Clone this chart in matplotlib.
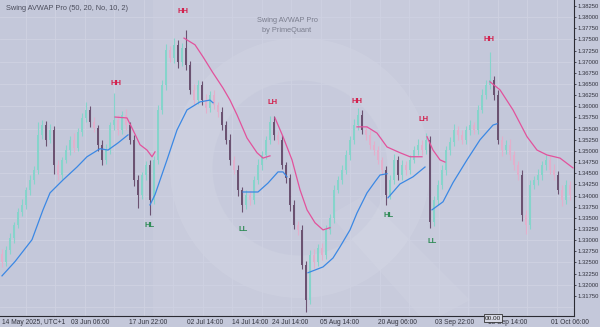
import numpy as np
import matplotlib.pyplot as plt
from matplotlib.patches import Rectangle, Ellipse, Polygon

plt.rcParams['font.family'] = ['Liberation Sans', 'DejaVu Sans']

## DATA

# one candle per slot, close prices
closes = [
    1.3252, 1.3278, 1.3305, 1.3334, 1.3364, 1.3379, 1.3413, 1.3435, 1.3458, 1.3536,
    1.3558, 1.3525, 1.3547, 1.3469, 1.3446, 1.3480, 1.3502, 1.3525, 1.3507, 1.3543,
    1.3574, 1.3592, 1.3565, 1.3552, 1.3514, 1.3480, 1.3502, 1.3558, 1.3570, 1.3547,
    1.3581, 1.3558, 1.3525, 1.3435, 1.3402, 1.3446, 1.3469, 1.3390, 1.3480, 1.3592,
    1.3648, 1.3726, 1.3708, 1.3738, 1.3700, 1.3731, 1.3693, 1.3637, 1.3614, 1.3648,
    1.3614, 1.3596, 1.3626, 1.3603, 1.3588, 1.3558, 1.3525, 1.3480, 1.3458, 1.3413,
    1.3379, 1.3402, 1.3390, 1.3435, 1.3469, 1.3491, 1.3525, 1.3565, 1.3536, 1.3525,
    1.3469, 1.3440, 1.3379, 1.3334, 1.3323, 1.3245, 1.3166, 1.3267, 1.3252, 1.3283,
    1.3267, 1.3323, 1.3350, 1.3413, 1.3435, 1.3458, 1.3491, 1.3525, 1.3558, 1.3581,
    1.3547, 1.3536, 1.3514, 1.3502, 1.3480, 1.3458, 1.3402, 1.3435, 1.3480, 1.3446,
    1.3469, 1.3458, 1.3480, 1.3502, 1.3514, 1.3502, 1.3525, 1.3341, 1.3390, 1.3424,
    1.3458, 1.3502, 1.3520, 1.3547, 1.3536, 1.3525, 1.3547, 1.3558, 1.3547, 1.3592,
    1.3626, 1.3648, 1.3659, 1.3626, 1.3525, 1.3502, 1.3514, 1.3491, 1.3469, 1.3446,
    1.3357, 1.3334, 1.3424, 1.3435, 1.3446, 1.3469, 1.3480, 1.3458, 1.3446, 1.3413,
    1.3390, 1.3424, 1.3402,
]
first_open = 1.3270

# wick lengths in pips above / below the body
upper_wick = [
    10, 8, 12, 6, 9, 14, 7, 10, 8, 30,
    12, 9, 14, 8, 10, 7, 12, 9, 15, 8,
    10, 18, 9, 12, 7, 10, 14, 8, 60, 11,
    9, 13, 8, 10, 12, 7, 9, 11, 8, 10,
    12, 14, 9, 15, 11, 10, 40, 8, 12, 10,
    9, 14, 8, 11, 7, 10, 9, 12, 8, 10,
    7, 11, 9, 8, 12, 10, 9, 14, 14, 8,
    10, 7, 9, 12, 8, 10, 9, 11, 14, 8,
    10, 12, 9, 11, 8, 10, 12, 9, 14, 15,
    10, 8, 11, 9, 10, 7, 9, 12, 14, 8,
    10, 9, 11, 8, 12, 10, 15, 9, 8, 11,
    10, 9, 12, 14, 8, 10, 9, 11, 8, 12,
    14, 10, 63, 9, 11, 8, 10, 12, 9, 8,
    11, 10, 12, 9, 14, 8, 10, 9, 12, 8,
    10, 11, 9,
]
lower_wick = [
    12, 9, 8, 11, 7, 10, 9, 12, 8, 10,
    9, 14, 8, 20, 12, 9, 8, 11, 10, 7,
    9, 8, 11, 10, 14, 12, 9, 8, 10, 12,
    9, 11, 10, 14, 30, 9, 12, 33, 8, 10,
    9, 12, 8, 10, 14, 9, 11, 10, 12, 8,
    10, 12, 9, 8, 11, 10, 9, 12, 10, 14,
    15, 10, 12, 9, 8, 11, 10, 9, 12, 10,
    9, 11, 14, 10, 12, 9, 26, 10, 14, 9,
    12, 10, 9, 11, 8, 10, 9, 12, 10, 11,
    9, 12, 10, 11, 9, 12, 23, 10, 9, 12,
    10, 11, 9, 8, 10, 12, 9, 13, 10, 12,
    9, 11, 10, 8, 12, 10, 9, 11, 10, 9,
    8, 10, 9, 12, 10, 14, 9, 11, 12, 10,
    14, 21, 10, 9, 12, 10, 11, 9, 12, 10,
    14, 9, 12,
]

# anchored vwap lines (candle slot, price)
blue_lines = [
    [(0, 1.3220), (3.25, 1.3252), (7.5, 1.3301), (10.25, 1.3368), (12, 1.3406), (15.25, 1.3435),
     (18.75, 1.3464), (21.25, 1.3487), (24.5, 1.3505), (26.5, 1.3502), (29, 1.3518), (31.5, 1.3536)],
    [(37, 1.3379), (38.25, 1.3402), (41.25, 1.3480), (43.75, 1.3547), (46.25, 1.3592),
     (49.5, 1.3610), (52, 1.3614), (52.75, 1.3608)],
    [(60.25, 1.3408), (64, 1.3408), (66.5, 1.3428), (69, 1.3453), (70.25, 1.3453), (71.25, 1.3442)],
    [(76.5, 1.3227), (80.25, 1.3240), (82.75, 1.3260), (84.5, 1.3285), (87, 1.3323), (88.75, 1.3361),
     (91.25, 1.3406), (93.25, 1.3431), (94.5, 1.3446), (96.25, 1.3449)],
    [(96.5, 1.3395), (99.5, 1.3426), (102.75, 1.3442), (105.75, 1.3464)],
    [(107.5, 1.3368), (110.25, 1.3386), (112.75, 1.3429), (116.25, 1.3480), (119.5, 1.3525),
     (122.75, 1.3558), (123.75, 1.3561)],
]
pink_lines = [
    [(28.25, 1.3576), (31.25, 1.3574), (32.75, 1.3547), (34.5, 1.3514), (36.25, 1.3502),
     (37.5, 1.3487), (38.25, 1.3498)],
    [(45.5, 1.3753), (48.25, 1.3738), (50.25, 1.3711), (52.75, 1.3675), (55.25, 1.3641), (57, 1.3614),
     (58.75, 1.3581), (61.25, 1.3529), (63.75, 1.3496), (65.25, 1.3484), (67, 1.3489)],
    [(68.25, 1.3574), (70.25, 1.3532), (72.5, 1.3480), (74.5, 1.3413), (76.25, 1.3368),
     (78.25, 1.3339), (80.25, 1.3323), (82, 1.3328)],
    [(88.75, 1.3554), (91.25, 1.3554), (93.75, 1.3540), (96.25, 1.3509), (99.5, 1.3496),
     (102, 1.3487), (105, 1.3487)],
    [(106.25, 1.3532), (107.75, 1.3502), (109.5, 1.3480), (110.75, 1.3475)],
    [(122, 1.3655), (124.5, 1.3637), (127.75, 1.3592), (131.25, 1.3532), (133.75, 1.3502),
     (136.25, 1.3491), (139.5, 1.3484), (142.75, 1.3462)],
]

# swing labels (slot, price, text)
swing_labels = [
    (28.5, 1.3652, "HH"), (37, 1.3332, "HL"), (45.25, 1.3812, "HH"), (60.25, 1.3325, "LL"),
    (67.75, 1.3608, "LH"), (88.75, 1.3610, "HH"), (96.75, 1.3355, "HL"), (105.5, 1.3570, "LH"),
    (107.5, 1.3296, "LL"), (121.75, 1.3749, "HH"),
]

first_date_label = "14 May 2025, UTC+1"
x_tick_pos = [22, 36.5, 50.75, 62, 72, 84.5, 98.75, 113.25, 126.5, 142]
x_tick_labels = ["03 Jun 06:00", "17 Jun 22:00", "02 Jul 14:00",
                 "14 Jul 14:00", "24 Jul 14:00", "05 Aug 14:00", "20 Aug 06:00",
                 "03 Sep 22:00", "18 Sep 14:00", "01 Oct 06:00"]
y_ticks = np.arange(1.3175, 1.38251, 0.0025)

## STYLE
BG = "#c4c8da"
UP = "#86d4cb"
DOWN = "#6b5271"
DOWN_SMALL = "#e3afcb"
BLUE = "#3b88e4"
PINK = "#e2529c"
RED_TXT = "#d31f4c"
GREEN_TXT = "#2e8b55"
TXT = "#33343f"

fig = plt.figure(figsize=(6, 3.27), dpi=100)
fig.patch.set_facecolor(BG)
ax = fig.add_axes([0, 11 / 327, 574 / 600, 316 / 327])
ax.set_facecolor(BG)
ax.set_xlim(-0.5, 143)
ax.set_ylim(1.3130, 1.38384)


def px(x, y):
    # pixel position inside the plot area -> axes fraction
    return (x / 574, (316 - y) / 316)


# watermark logo, faint shapes in the back
tr = ax.transAxes
ax.add_patch(Rectangle(px(153, 316), 317 / 574, 1, transform=tr, color="white", alpha=0.07, lw=0, zorder=0))
ax.add_patch(Ellipse(px(300, 168), 260 / 574, 260 / 316, transform=tr,
                     color="white", alpha=0.09, lw=0, zorder=0))
ax.add_patch(Ellipse(px(300, 168), 175 / 574, 175 / 316, transform=tr,
                     color=BG, alpha=0.6, lw=0, zorder=0))
ax.add_patch(Polygon([px(330, 215), px(365, 195), px(470, 300), px(440, 316), px(420, 316)],
                     transform=tr, color="white", alpha=0.07, lw=0, zorder=0))

# grid
for v in np.arange(1.315, 1.3841, 0.005):
    ax.axhline(v, color="#cfd2e2", lw=0.6, zorder=1)
for g in np.arange(87 - 7.375 * 12, 143, 7.375):
    ax.axvline(g, color="#cfd2e2", lw=0.6, zorder=1)

# candles
c = np.array(closes)
o = np.concatenate([[first_open], c[:-1]])
hi = np.maximum(o, c) + np.array(upper_wick) * 0.0001
lo = np.minimum(o, c) - np.array(lower_wick) * 0.0001
idx = np.arange(len(c))
cols = []
for oo, cc in zip(o, c):
    if cc >= oo:
        cols.append(UP)
    elif oo - cc < 0.0025:
        cols.append(DOWN_SMALL)
    else:
        cols.append(DOWN)
ax.vlines(idx, lo, hi, colors=cols, lw=0.8, zorder=2)
ax.bar(idx, np.maximum(np.abs(c - o), 0.00015), bottom=np.minimum(o, c), width=0.7,
       color=cols, lw=0, zorder=3)

# avwap lines
for seg in blue_lines:
    xs, ys = zip(*seg)
    ax.plot(xs, ys, color=BLUE, lw=0.9, zorder=4)
for seg in pink_lines:
    xs, ys = zip(*seg)
    ax.plot(xs, ys, color=PINK, lw=0.9, zorder=4)

for sx, sy, t in swing_labels:
    col = RED_TXT if t in ("HH", "LH") else GREEN_TXT
    ax.text(sx, sy, t, color=col, fontsize=5.5, fontweight="bold", ha="center", va="center", zorder=5)

# axes look
for s in ("top", "left"):
    ax.spines[s].set_visible(False)
for s in ("right", "bottom"):
    ax.spines[s].set_color("#2b2b33")
    ax.spines[s].set_linewidth(0.8)
ax.yaxis.tick_right()
ax.set_yticks(y_ticks)
ax.set_yticklabels([f"{v:.5f}" for v in y_ticks])
ax.tick_params(axis="y", length=1.5, width=0.6, pad=1, labelsize=4.2, colors=TXT)
ax.set_xticks(x_tick_pos)
ax.set_xticklabels(x_tick_labels)
ax.tick_params(axis="x", length=0, pad=2.5, labelsize=4.8, colors=TXT)
fig.text(2 / 600, 1 - 322 / 327, first_date_label, fontsize=4.8, color=TXT, va="center")

# texts
fig.text(6 / 600, 1 - 9 / 327, "Swing AVWAP Pro (50, 20, No, 10, 2)", fontsize=5.3,
         color="#4b4d5c", va="center")
fig.text(287 / 600, 1 - 21 / 327, "Swing AVWAP Pro", fontsize=5.3, color="#7b7e8e",
         ha="center", va="center")
fig.text(287 / 600, 1 - 31 / 327, "by PrimeQuant", fontsize=5.3, color="#7b7e8e",
         ha="center", va="center")
fig.text(493 / 600, 1 - 318 / 327, "00.00", fontsize=4.6, color="#222", ha="center", va="center",
         bbox=dict(boxstyle="square,pad=0.2", fc="#d6d8e4", ec="#333", lw=0.6))

fig.savefig("out.png", dpi=100, facecolor=BG)
